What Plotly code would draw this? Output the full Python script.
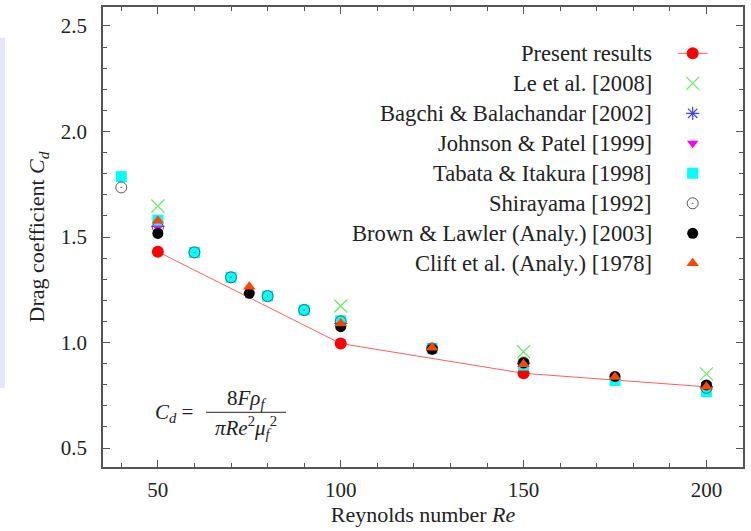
import plotly.graph_objects as go

# ---------------- data ----------------
re_present = [50, 100, 150, 200]
cd_present = [1.43, 0.995, 0.854, 0.79]

re_le = [50, 100, 150, 200]
cd_le = [1.647, 1.173, 0.956, 0.851]

re_bagchi = [50, 100, 150, 200]
cd_bagchi = [1.55, 1.09, 0.90, 0.79]

re_johnson = [50, 100, 150, 200]
cd_johnson = [1.545, 1.08, 0.90, 0.80]

re_tabata = [40, 50, 60, 70, 80, 90, 100, 125, 150, 175, 200]
cd_tabata = [1.786, 1.58, 1.427, 1.309, 1.22, 1.154, 1.103, 0.972, 0.893, 0.82, 0.767]

re_shirayama = [40, 50, 60, 70, 80, 90, 100, 125, 150, 200]
cd_shirayama = [1.735, 1.545, 1.427, 1.309, 1.22, 1.154, 1.10, 0.972, 0.905, 0.785]

re_brown = [50, 75, 100, 125, 150, 175, 200]
cd_brown = [1.517, 1.233, 1.075, 0.968, 0.904, 0.839, 0.799]

re_clift = [50, 75, 100, 125, 150, 175, 200]
cd_clift = [1.577, 1.264, 1.09, 0.975, 0.897, 0.836, 0.79]

labels = [
    "Present results",
    "Le et al. [2008]",
    "Bagchi & Balachandar [2002]",
    "Johnson & Patel [1999]",
    "Tabata & Itakura [1998]",
    "Shirayama [1992]",
    "Brown & Lawler (Analy.) [2003]",
    "Clift et al. (Analy.) [1978]",
]

FONT = "Liberation Serif"

fig = go.Figure()

fig.add_trace(go.Scatter(x=re_present, y=cd_present, mode="lines+markers", name="",
                         line=dict(color="#ff6060", width=1),
                         marker=dict(symbol="circle", size=12, color="#ff0000")))
fig.add_trace(go.Scatter(x=re_le, y=cd_le, mode="markers", name="",
                         marker=dict(symbol="x-thin-open", size=13, color="#66ee66",
                                     line=dict(color="#66ee66", width=1.2))))
fig.add_trace(go.Scatter(x=re_bagchi, y=cd_bagchi, mode="markers", name="",
                         marker=dict(symbol="asterisk-open", size=11, color="#4040ff",
                                     line=dict(color="#4040ff", width=1.2))))
fig.add_trace(go.Scatter(x=re_johnson, y=cd_johnson, mode="markers", name="",
                         marker=dict(symbol="triangle-down", size=10, color="#ff00ff")))
fig.add_trace(go.Scatter(x=re_tabata, y=cd_tabata, mode="markers", name="",
                         marker=dict(symbol="square", size=11, color="#00ffff")))
fig.add_trace(go.Scatter(x=re_shirayama, y=cd_shirayama, mode="markers", name="",
                         marker=dict(symbol="circle-open-dot", size=11, color="#555555",
                                     line=dict(color="#555555", width=1))))
fig.add_trace(go.Scatter(x=re_brown, y=cd_brown, mode="markers", name="",
                         marker=dict(symbol="circle", size=11, color="#000000")))
fig.add_trace(go.Scatter(x=re_clift, y=cd_clift, mode="markers", name="",
                         marker=dict(symbol="triangle-up", size=11, color="#ff4500")))

# plot-area geometry in pixels (for paper-coordinate placement of decorations)
L, R, T, B = 103, 8, 7, 64
W, H = 751, 531
pw, ph = W - L - R, H - T - B

def px_x(x):
    return (x - L) / pw

def px_y(y):
    return (H - B - y) / ph

annotations = []
# legend labels (right-aligned, symbols to their right)
for i, lab in enumerate(labels):
    annotations.append(dict(
        text=lab, xref="paper", yref="paper",
        x=px_x(654), y=px_y(53.3 + 30 * i),
        xanchor="right", yanchor="middle", showarrow=False,
        font=dict(family=FONT, size=22.6, color="#222222")))

# formula
annotations += [
    dict(text="<i>C<sub>d</sub></i> =", xref="paper", yref="paper",
         x=px_x(174), y=px_y(413), xanchor="center", yanchor="middle",
         showarrow=False, font=dict(family=FONT, size=21, color="#222222")),
    dict(text="8<i>Fρ<sub>f</sub></i>", xref="paper", yref="paper",
         x=px_x(246), y=px_y(399), xanchor="center", yanchor="middle",
         showarrow=False, font=dict(family=FONT, size=21, color="#222222")),
    dict(text="<i>πRe</i><sup>2</sup><i>μ<sub>f</sub></i><sup>2</sup>", xref="paper", yref="paper",
         x=px_x(246), y=px_y(427), xanchor="center", yanchor="middle",
         showarrow=False, font=dict(family=FONT, size=21, color="#222222")),
]

shapes = [
    dict(type="line", xref="paper", yref="paper",
         x0=px_x(206), x1=px_x(286), y0=px_y(412.3), y1=px_y(412.3),
         line=dict(color="#222222", width=1)),
    dict(type="rect", xref="paper", yref="paper",
         x0=px_x(0), x1=px_x(5), y0=px_y(388), y1=px_y(38),
         fillcolor="rgba(200,200,255,0.45)", line=dict(width=0), layer="below"),
]

axis_common = dict(
    showgrid=False, zeroline=False, showline=True, mirror="ticks",
    linecolor="#555555", linewidth=1.5, automargin=False,
    ticks="inside", ticklen=7, tickwidth=1.2, tickcolor="#555555",
    tickfont=dict(family=FONT, size=21, color="#222222"),
)

fig.update_layout(
    width=W, height=H,
    margin=dict(l=L, r=R, t=T, b=B, autoexpand=False),
    paper_bgcolor="white", plot_bgcolor="white",
    showlegend=True,
    legend=dict(x=px_x(672.7), y=px_y(33.3), xanchor="left", yanchor="top",
                bgcolor="rgba(0,0,0,0)", borderwidth=0,
                font=dict(family=FONT, size=20.77)),
    xaxis=dict(range=[35, 210], tick0=0, dtick=50,
               minor=dict(dtick=10, ticks="inside", ticklen=4, tickcolor="#555555", tickwidth=1),
               ticklabelstandoff=3,
               title=dict(text="Reynolds number <i>Re</i>", standoff=6,
                          font=dict(family=FONT, size=22, color="#222222")),
               **axis_common),
    yaxis=dict(range=[0.41, 2.59], tick0=0, dtick=0.5, tickformat=".1f",
               minor=dict(dtick=0.1, ticks="inside", ticklen=4, tickcolor="#555555", tickwidth=1),
               ticklabelstandoff=10,
               title=dict(text="Drag coefficient <i>C<sub>d</sub></i>", standoff=10,
                          font=dict(family=FONT, size=22, color="#222222")),
               **axis_common),
    annotations=annotations,
    shapes=shapes,
)

fig.write_html("out.html", config={"displayModeBar": False},
               post_script="document.body.style.margin='0';")
